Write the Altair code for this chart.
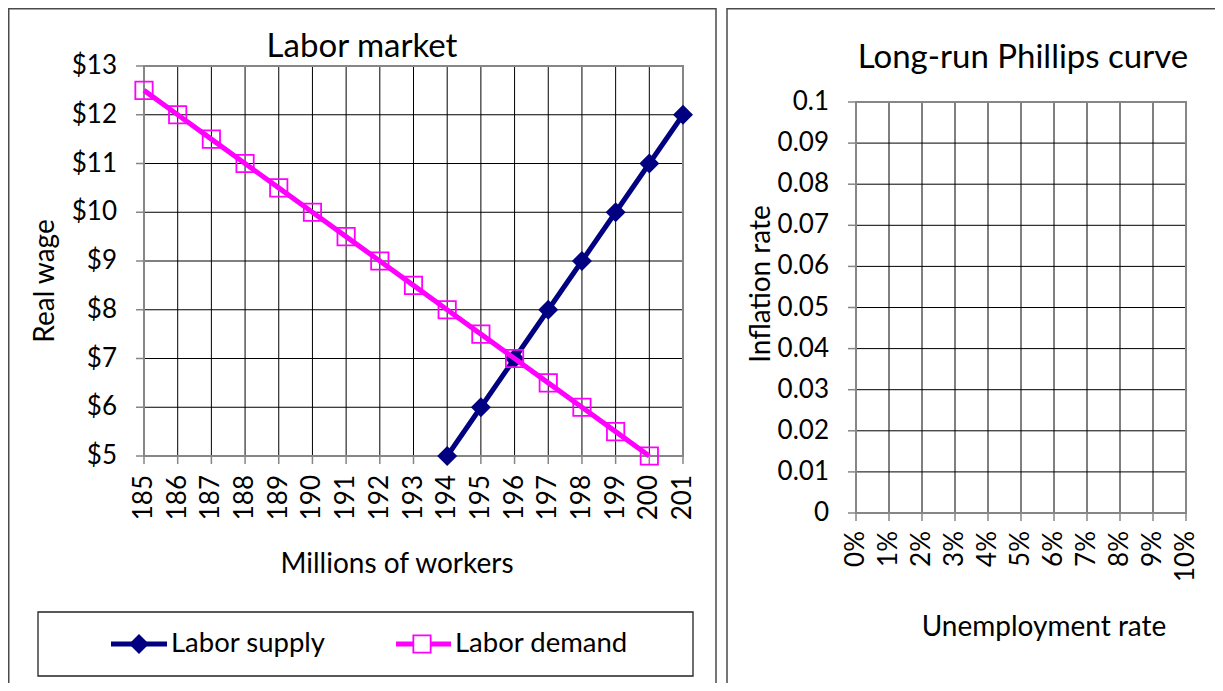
import altair as alt
import pandas as pd

# ---------------- data ----------------
workers = [185, 186, 187, 188, 189, 190, 191, 192, 193, 194, 195, 196, 197, 198, 199, 200, 201]
worker_labels = ["185", "186", "187", "188", "189", "190", "191", "192", "193",
                 "194", "195", "196", "197", "198", "199", "200", "201"]
supply_workers = [194, 195, 196, 197, 198, 199, 200, 201]
supply_wage = [5, 6, 7, 8, 9, 10, 11, 12]
demand_workers = [185, 186, 187, 188, 189, 190, 191, 192, 193, 194, 195, 196, 197, 198, 199, 200]
demand_wage = [12.5, 12, 11.5, 11, 10.5, 10, 9.5, 9, 8.5, 8, 7.5, 7, 6.5, 6, 5.5, 5]
wage_ticks = [5, 6, 7, 8, 9, 10, 11, 12, 13]
wage_labels = ["$5", "$6", "$7", "$8", "$9", "$10", "$11", "$12", "$13"]
unemp_ticks = [0, 0.01, 0.02, 0.03, 0.04, 0.05, 0.06, 0.07, 0.08, 0.09, 0.1]
unemp_labels = ["0%", "1%", "2%", "3%", "4%", "5%", "6%", "7%", "8%", "9%", "10%"]
infl_ticks = [0, 0.01, 0.02, 0.03, 0.04, 0.05, 0.06, 0.07, 0.08, 0.09, 0.1]
infl_labels = ["0", "0.01", "0.02", "0.03", "0.04", "0.05", "0.06", "0.07", "0.08", "0.09", "0.1"]
left_title = ["Labor market"]
left_xtitle = ["Millions of workers"]
left_ytitle = ["Real wage"]
right_title = ["Long-run Phillips curve"]
right_xtitle = ["Unemployment rate"]
right_ytitle = ["Inflation rate"]
series_names = ["Labor supply", "Labor demand"]

NAVY = "#000080"
MAGENTA = "#FF00FF"
GRID = "#000000"
AXIS = "#868686"
FRAME = "#4a4a4a"
FONT = "Lato"
TICK_FS = 26
TITLE_FS = 33
AXTITLE_FS = 28
LEG_FS = 27.5


def S(domain, rng):
    return alt.Scale(domain=domain, range=rng, nice=False, zero=False)


XL = S([workers[0], workers[-1]], [136, 675])
YL = S([wage_ticks[0], wage_ticks[-1]], [448, 58])
XR = S([unemp_ticks[0], unemp_ticks[-1]], [848, 1178])
YR = S([infl_ticks[0], infl_ticks[-1]], [505, 94])


def X(f, sc):
    return alt.X(f, scale=sc, axis=None)


def Y(f, sc):
    return alt.Y(f, scale=sc, axis=None)


layers = []

# ---------- frames of the two chart objects ----------
frame = pd.DataFrame({"k": [0]})
layers.append(alt.Chart(frame).mark_rect(fillOpacity=0, stroke=FRAME, strokeWidth=1.5).encode(
    x=alt.value(0.75), x2=alt.value(708), y=alt.value(0.75), y2=alt.value(720)))
layers.append(alt.Chart(frame).mark_rect(fillOpacity=0, stroke=FRAME, strokeWidth=1.5).encode(
    x=alt.value(719), x2=alt.value(1260), y=alt.value(0.75), y2=alt.value(720)))


def panel(xs, xlabels, ys, ylabels, XS, YS, ylab_x, xlab_y, tick_left, tick_bottom):
    out = []
    gv = pd.DataFrame({"x": xs, "y0": ys[0], "y1": ys[-1]})
    gh = pd.DataFrame({"y": ys, "x0": xs[0], "x1": xs[-1]})
    out.append(alt.Chart(gv).mark_rule(color=GRID, strokeWidth=1).encode(
        x=X("x:Q", XS), y=Y("y0:Q", YS), y2="y1:Q"))
    out.append(alt.Chart(gh).mark_rule(color=GRID, strokeWidth=1).encode(
        y=Y("y:Q", YS), x=X("x0:Q", XS), x2="x1:Q"))
    # ticks
    out.append(alt.Chart(gv).mark_rule(color=AXIS, strokeWidth=1.5).encode(
        x=X("x:Q", XS), y=alt.value(tick_bottom), y2=alt.value(tick_bottom + 8)))
    out.append(alt.Chart(gh).mark_rule(color=AXIS, strokeWidth=1.5).encode(
        y=Y("y:Q", YS), x=alt.value(tick_left - 8), x2=alt.value(tick_left)))
    # plot-area border / axis lines
    b = pd.DataFrame({"x0": [xs[0]], "x1": [xs[-1]], "y0": [ys[0]], "y1": [ys[-1]]})
    out.append(alt.Chart(b).mark_rect(fillOpacity=0, stroke=AXIS, strokeWidth=2).encode(
        x=X("x0:Q", XS), x2="x1:Q", y=Y("y0:Q", YS), y2="y1:Q"))
    # tick labels
    yl = pd.DataFrame({"y": ys, "t": ylabels})
    out.append(alt.Chart(yl).mark_text(align="right", baseline="middle", font=FONT,
                                       fontSize=TICK_FS, color="black").encode(
        y=Y("y:Q", YS), x=alt.value(ylab_x), text="t:N"))
    xl = pd.DataFrame({"x": xs, "t": xlabels})
    out.append(alt.Chart(xl).mark_text(align="right", baseline="middle", angle=270, font=FONT,
                                       fontSize=TICK_FS, color="black").encode(
        x=X("x:Q", XS), y=alt.value(xlab_y), text="t:N"))
    return out


layers += panel(workers, worker_labels, wage_ticks, wage_labels, XL, YL, 109, 467, 136, 448)
layers += panel(unemp_ticks, unemp_labels, infl_ticks, infl_labels, XR, YR, 821, 523, 848, 505)


def label(txt, x, y, size, angle=0, baseline="alphabetic"):
    d = pd.DataFrame({"t": txt})
    kw = dict(align="center", baseline=baseline, font=FONT, fontSize=size, color="black")
    if angle:
        kw["angle"] = angle
    return alt.Chart(d).mark_text(**kw).encode(x=alt.value(x), y=alt.value(y), text="t:N")


layers.append(label(left_title, 354, 49, TITLE_FS))
layers.append(label(right_title, 1015, 60, TITLE_FS))
layers.append(label(left_xtitle, 389, 565, AXTITLE_FS))
layers.append(label(right_xtitle, 1036, 628, AXTITLE_FS))
layers.append(label(left_ytitle, 38, 273, AXTITLE_FS, angle=270, baseline="middle"))
layers.append(label(right_ytitle, 754, 276, AXTITLE_FS, angle=270, baseline="middle"))

# ---------- series ----------
sup = pd.DataFrame({"x": supply_workers, "y": supply_wage})
dem = pd.DataFrame({"x": demand_workers, "y": demand_wage})
layers.append(alt.Chart(sup).mark_line(color=NAVY, strokeWidth=5).encode(
    x=X("x:Q", XL), y=Y("y:Q", YL)))
layers.append(alt.Chart(sup).mark_point(shape="diamond", filled=True, size=400, color=NAVY, opacity=1).encode(
    x=X("x:Q", XL), y=Y("y:Q", YL)))
layers.append(alt.Chart(dem).mark_line(color=MAGENTA, strokeWidth=5).encode(
    x=X("x:Q", XL), y=Y("y:Q", YL)))
layers.append(alt.Chart(dem).mark_point(shape="square", filled=False, size=300, color=MAGENTA,
                                        strokeWidth=1.8, opacity=1).encode(
    x=X("x:Q", XL), y=Y("y:Q", YL)))

# ---------- legend ----------
layers.append(alt.Chart(frame).mark_rect(fillOpacity=0, stroke="#222222", strokeWidth=1.3).encode(
    x=alt.value(30), x2=alt.value(685), y=alt.value(604), y2=alt.value(668)))
layers.append(alt.Chart(frame).mark_rule(color=NAVY, strokeWidth=5).encode(
    x=alt.value(103), x2=alt.value(159), y=alt.value(636)))
layers.append(alt.Chart(frame).mark_point(shape="diamond", filled=True, size=400, color=NAVY, opacity=1).encode(
    x=alt.value(131), y=alt.value(636)))
layers.append(alt.Chart(frame).mark_rule(color=MAGENTA, strokeWidth=5).encode(
    x=alt.value(388), x2=alt.value(443), y=alt.value(636)))
layers.append(alt.Chart(frame).mark_point(shape="square", filled=True, size=300, color="white",
                                          stroke=MAGENTA, strokeWidth=1.8, opacity=1).encode(
    x=alt.value(414), y=alt.value(636)))
leg = pd.DataFrame({"t": [series_names[0]]})
layers.append(alt.Chart(leg).mark_text(align="left", baseline="alphabetic", font=FONT, fontSize=LEG_FS,
                                       color="black").encode(x=alt.value(163), y=alt.value(644), text="t:N"))
leg2 = pd.DataFrame({"t": [series_names[1]]})
layers.append(alt.Chart(leg2).mark_text(align="left", baseline="alphabetic", font=FONT, fontSize=LEG_FS,
                                        color="black").encode(x=alt.value(447), y=alt.value(644), text="t:N"))

chart = alt.layer(*layers).resolve_scale(x="independent", y="independent").properties(
    width=1207, height=675, padding=0,
    autosize=alt.AutoSizeParams(type="none"),
    background="white",
).configure_view(stroke=None)

chart.save("out.html", embed_options={"renderer": "svg", "actions": False})
